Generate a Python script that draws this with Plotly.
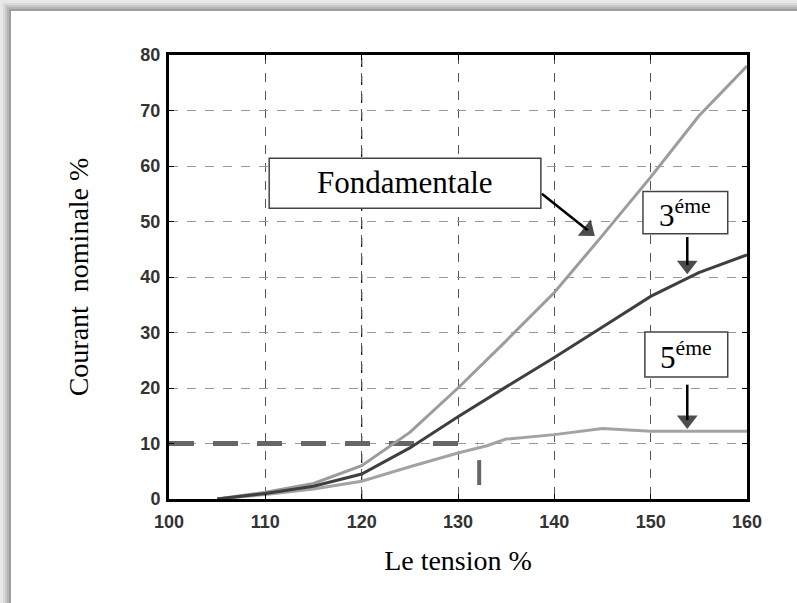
import plotly.graph_objects as go

# ---- data ----
tension = [105, 110, 115, 120, 125, 130, 135, 140, 145, 150, 155, 160]
fondamentale = [0, 1.2, 2.8, 6.0, 12.0, 20.0, 28.5, 37.2, 47.5, 58.0, 69.0, 78.0]
harm3 = [0, 1.0, 2.3, 4.5, 9.2, 14.8, 20.2, 25.5, 31.0, 36.5, 40.8, 44.0]
tension5 = [105, 110, 115, 120, 125, 130, 133, 135, 140, 145, 150, 155, 160]
harm5 = [0, 0.8, 1.8, 3.2, 5.8, 8.3, 9.6, 10.8, 11.6, 12.7, 12.2, 12.2, 12.2]

ref_x = [100, 132]
ref_y = [10, 10]
mark_x = [132.2, 132.2]
mark_y = [2.5, 7.0]

x_ticks = [100, 110, 120, 130, 140, 150, 160]
y_ticks = [0, 10, 20, 30, 40, 50, 60, 70, 80]

W, H = 797, 603
L, R, T, B = 169, 50, 55, 104
pw, ph = W - L - R, H - T - B

SERIF = "Times New Roman, Liberation Serif, serif"
SANS = "Arial, Liberation Sans, sans-serif"

def px(xp):
    return (xp - L) / pw

def py(yp):
    return 1 - (yp - T) / ph

fig = go.Figure()

fig.add_trace(go.Scatter(x=ref_x, y=ref_y, mode="lines",
                         line=dict(color="#666666", width=5, dash="25px,19px"),
                         hoverinfo="skip", showlegend=False))
fig.add_trace(go.Scatter(x=mark_x, y=mark_y, mode="lines",
                         line=dict(color="#666666", width=4),
                         hoverinfo="skip", showlegend=False))
fig.add_trace(go.Scatter(x=tension5, y=harm5, mode="lines", name="5éme",
                         line=dict(color="#a3a3a3", width=3), showlegend=False))
fig.add_trace(go.Scatter(x=tension, y=fondamentale, mode="lines", name="Fondamentale",
                         line=dict(color="#9c9c9c", width=3), showlegend=False))
fig.add_trace(go.Scatter(x=tension, y=harm3, mode="lines", name="3éme",
                         line=dict(color="#3f3f3f", width=3), showlegend=False))

# pointer arrows (line + triangular head)
arrows = [((138.7, 55.0), (143.47, 48.41)),
          ((153.8, 47.2), (153.8, 42.12)),
          ((153.8, 20.6), (153.8, 14.22))]
for (sx, sy), (ex, ey) in arrows:
    fig.add_trace(go.Scatter(x=[sx, ex], y=[sy, ey], mode="lines+markers",
                             line=dict(color="black", width=2.5),
                             marker=dict(symbol=["circle", "triangle-up"], size=[0, 18],
                                         angleref="previous", color="black",
                                         line=dict(width=0)),
                             hoverinfo="skip", showlegend=False))

shapes = []
# gray shadow frame on the left and top
for i, c in enumerate(["#9e9e9e", "#b4b4b4", "#c8c8c8", "#dadada", "#e8e8e8"]):
    w = 11 - i * 2
    shapes.append(dict(type="rect", xref="paper", yref="paper", layer="below",
                       x0=px(0), x1=px(w), y0=py(H), y1=py(0),
                       fillcolor=c, line=dict(width=0)))
    shapes.append(dict(type="rect", xref="paper", yref="paper", layer="below",
                       x0=px(0), x1=px(W), y0=py(w), y1=py(0),
                       fillcolor=c, line=dict(width=0)))
# darker grid line at 120
shapes.append(dict(type="line", xref="x", yref="y", x0=120, x1=120, y0=0, y1=80,
                   layer="below", line=dict(color="#111111", width=1.2, dash="dash")))
# label boxes
boxes = [(110.4, 138.6, 52.4, 61.4), (149.2, 158.0, 47.8, 55.4), (149.4, 158.0, 22.0, 30.1)]
for x0, x1, y0, y1 in boxes:
    shapes.append(dict(type="rect", xref="x", yref="y", x0=x0, x1=x1, y0=y0, y1=y1,
                       fillcolor="white", line=dict(color="#444444", width=1.5)))

annotations = [
    dict(x=124.5, y=57.0, xref="x", yref="y", text="Fondamentale", showarrow=False,
         font=dict(family=SERIF, size=31, color="black")),
    dict(x=153.6, y=51.4, xref="x", yref="y", text="3<sup>éme</sup>", showarrow=False,
         font=dict(family=SERIF, size=31, color="black")),
    dict(x=153.7, y=25.8, xref="x", yref="y", text="5<sup>éme</sup>", showarrow=False,
         font=dict(family=SERIF, size=31, color="black")),
]

fig.update_layout(
    width=W, height=H,
    margin=dict(l=L, r=R, t=T, b=B),
    paper_bgcolor="white", plot_bgcolor="white",
    shapes=shapes, annotations=annotations,
    showlegend=False,
)
fig.update_xaxes(range=[100, 160], tickvals=x_ticks,
                 showline=True, linecolor="black", linewidth=3, mirror="ticks",
                 ticks="inside", ticklen=5, tickcolor="black",
                 showgrid=True, gridcolor="#555555", griddash="dash", gridwidth=1,
                 zeroline=False, ticklabelstandoff=4,
                 tickfont=dict(family=SANS, size=18, color="#333333", weight="bold"),
                 title=dict(text="Le tension %", standoff=20,
                            font=dict(family=SERIF, size=28, color="black")))
fig.update_yaxes(range=[0, 80], tickvals=y_ticks,
                 showline=True, linecolor="black", linewidth=3, mirror="ticks",
                 ticks="inside", ticklen=5, tickcolor="black",
                 showgrid=True, gridcolor="#999999", griddash="dash", gridwidth=1.3,
                 zeroline=False, ticklabelstandoff=2,
                 tickfont=dict(family=SANS, size=18, color="#333333", weight="bold"),
                 title=dict(text="Courant  nominale %", standoff=44,
                            font=dict(family=SERIF, size=28, color="black")))

fig.write_html("out.html", config={"displayModeBar": False},
               post_script="document.body.style.margin='0px';")
